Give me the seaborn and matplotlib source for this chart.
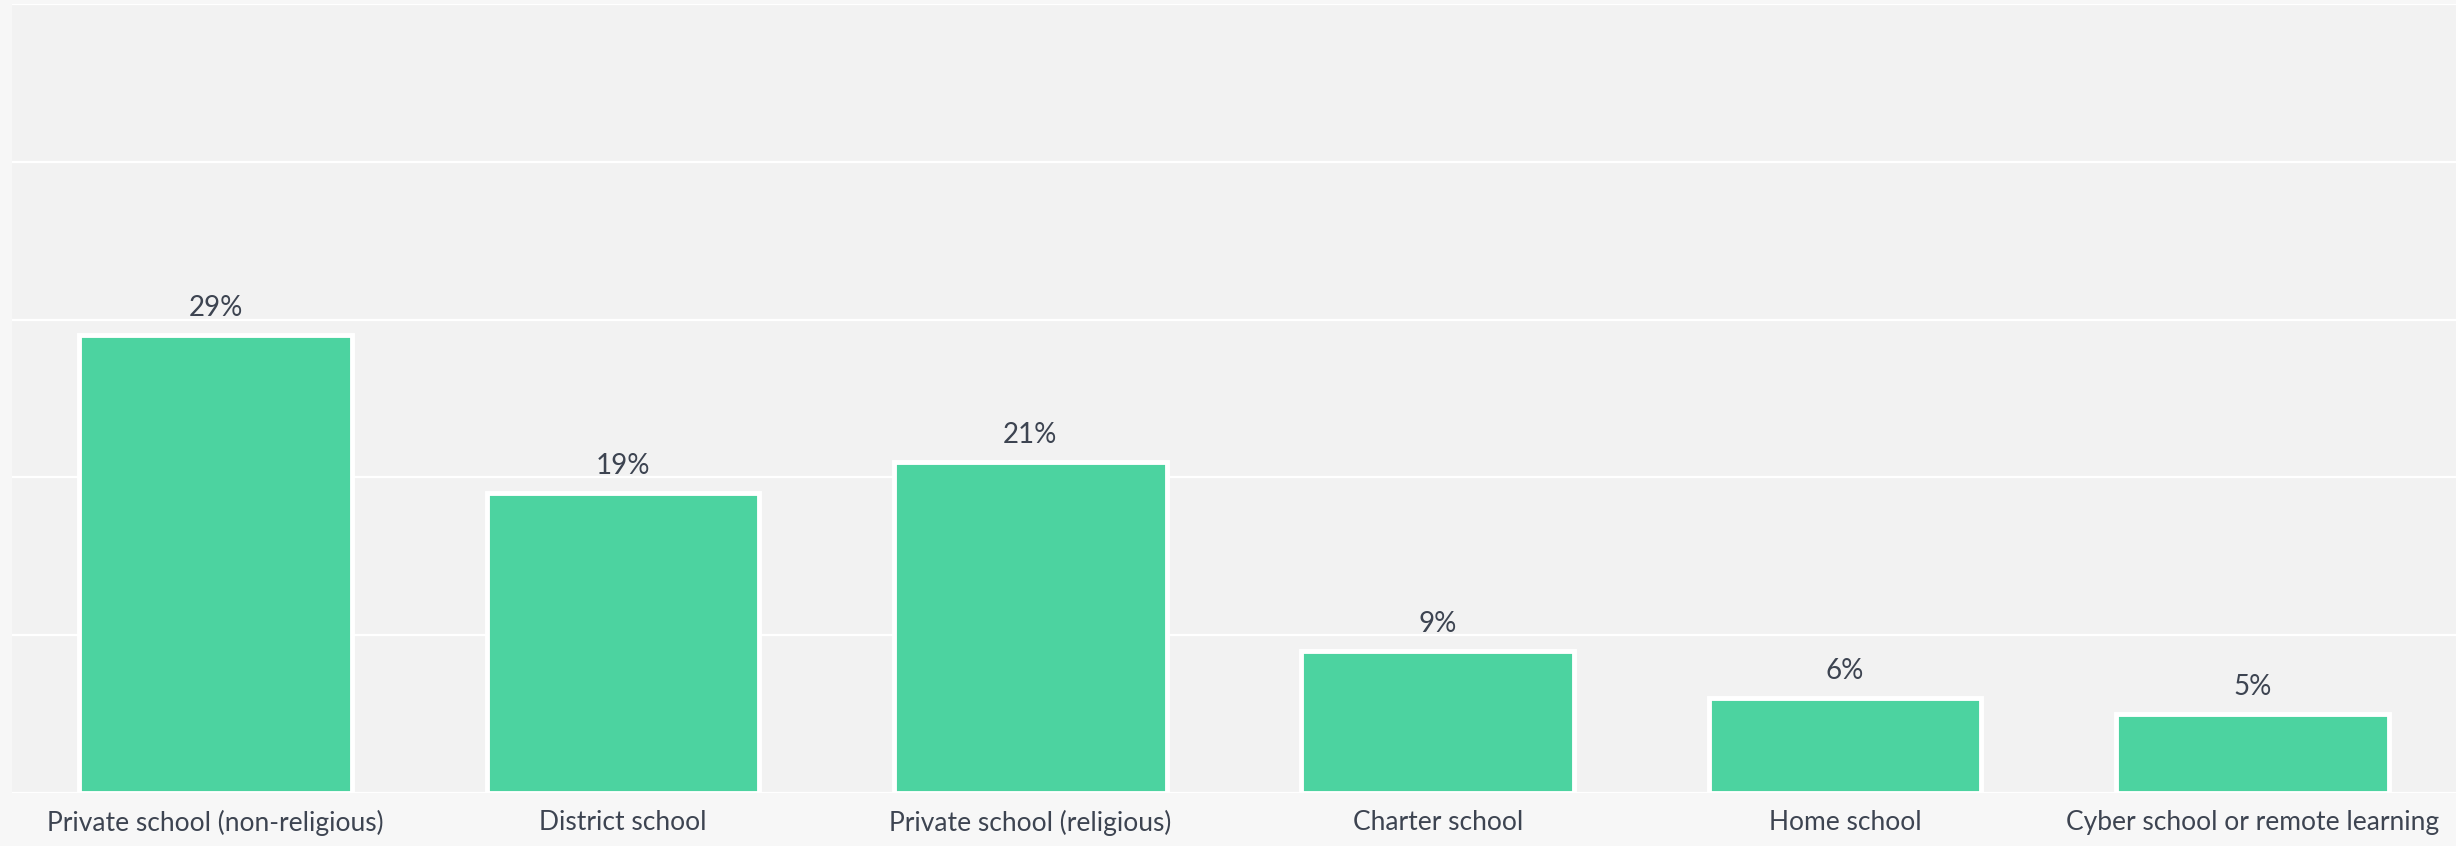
import numpy as np
import pandas as pd
import seaborn as sns
import matplotlib.pyplot as plt
from matplotlib.ticker import FixedLocator

# school types and share of respondents (%)
schools = ['Private school (non-religious)', 'District school', 'Private school (religious)',
           'Charter school', 'Home school', 'Cyber school or remote learning']
shares = [29, 19, 21, 9, 6, 5]

df = pd.DataFrame({'school': schools, 'share': shares})

sns.set_style('white')
plt.rcParams['font.family'] = ['Lato', 'DejaVu Sans']

fig = plt.figure(figsize=(24.56, 8.46), dpi=100, facecolor='#f7f7f7')
ax = fig.add_axes([12 / 2456, 53 / 846, 1 - 12 / 2456, 789 / 846])
ax.set_facecolor('#f2f2f2')

sns.barplot(data=df, x='school', y='share', color='#4cd3a0', saturation=1,
            edgecolor='white', linewidth=3.5, width=0.67, ax=ax, zorder=3)

ax.bar_label(ax.containers[0], labels=[f'{v}%' for v in shares], padding=10,
             fontsize=20, color='#3d4451')

ax.set_ylim(0, 50)
ax.set_xlim(-0.5, len(schools) - 0.5)
ax.set_yticks(np.arange(0, 51, 10))
ax.set_yticklabels([])
ax.grid(axis='y', color='white', linewidth=1.6, zorder=0)
ax.set_axisbelow(True)
for s in ax.spines.values():
    s.set_visible(False)

ax.set_xlabel('')
ax.set_ylabel('')
ax.tick_params(axis='x', which='major', length=0, labelsize=19, labelcolor='#3d4451', pad=12)
ax.xaxis.set_minor_locator(FixedLocator(np.arange(-0.5, len(schools), 1)))
ax.tick_params(axis='x', which='minor', length=8, width=1.5, color='white')
ax.tick_params(axis='y', length=0)

fig.savefig('out.png', dpi=100, facecolor=fig.get_facecolor())
